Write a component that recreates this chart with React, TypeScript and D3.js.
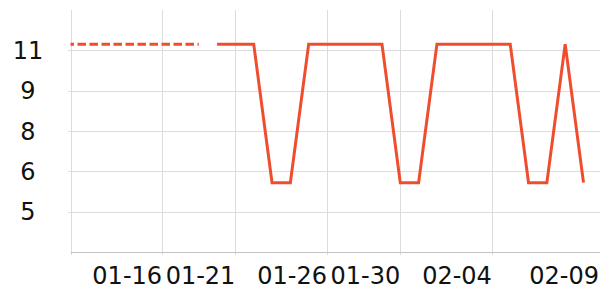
import React from 'react';
import * as d3 from 'd3';

// Point indices along the category axis (29 daily slots)
const dashedIndex = [0, 1, 2, 3, 4, 5, 6, 7];
const dashedValues = [11.23, 11.23, 11.23, 11.23, 11.23, 11.23, 11.23, 11.23];

const solidIndex = [8, 9, 10, 11, 12, 13, 14, 15, 16, 17, 18, 19, 20, 21, 22, 23, 24, 25, 26, 27, 28];
const solidValues = [
  11.23, 11.23, 11.23, 6.08, 6.08, 11.23, 11.23, 11.23, 11.23, 11.23, 6.08,
  6.08, 11.23, 11.23, 11.23, 11.23, 11.23, 6.08, 6.08, 11.23, 6.08,
];

const xTickLabels = ['01-16', '01-21', '01-26', '01-30', '02-04', '02-09'];
const xTickIndex = [5, 9, 14, 18, 23, 29];
const xGridIndex = [0, 5, 9, 14, 18, 23, 29];

const yTicks = [5, 6.5, 8, 9.5, 11];
const yDomain = [3.5, 12.5];
const xDomain = [0, 28];

const W = 600;
const H = 300;
const LEFT = 70.5;
const RIGHT_POINT = 583.5;
const TOP = 10;
const BOTTOM = 252;
const COLOR = '#ef4d2e';

export default function App() {
  const x = d3.scaleLinear().domain(xDomain).range([LEFT, RIGHT_POINT]);
  const y = d3.scaleLinear().domain(yDomain).range([BOTTOM, TOP]);

  const line = d3
    .line<[number, number]>()
    .x((d) => x(d[0]))
    .y((d) => y(d[1]));

  const dashedData: [number, number][] = dashedIndex.map((i, k) => [i, dashedValues[k]]);
  const solidData: [number, number][] = solidIndex.map((i, k) => [i, solidValues[k]]);

  const font = 'DejaVu Sans, sans-serif';

  return (
    <svg
      width={W}
      height={H}
      style={{ position: 'absolute', left: 0, top: 0, display: 'block', background: '#fff' }}
    >
      {yTicks.map((t) => (
        <line
          key={'hg' + t}
          x1={LEFT - 2.5}
          x2={W}
          y1={Math.round(y(t)) + 0.5}
          y2={Math.round(y(t)) + 0.5}
          stroke="#dcdcdc"
          strokeWidth={1}
        />
      ))}
      {xGridIndex.map((i) => (
        <line
          key={'vg' + i}
          x1={Math.round(x(i)) + 0.5}
          x2={Math.round(x(i)) + 0.5}
          y1={TOP}
          y2={BOTTOM + 3}
          stroke="#dcdcdc"
          strokeWidth={1}
        />
      ))}
      <line x1={LEFT} x2={W} y1={BOTTOM + 0.5} y2={BOTTOM + 0.5} stroke="#c4c4c4" strokeWidth={1} />

      {yTicks.map((t) => (
        <text
          key={'yl' + t}
          x={28}
          y={y(t)}
          dy="0.36em"
          textAnchor="middle"
          fontFamily={font}
          fontSize={24}
          fill="#111"
        >
          {Math.floor(t)}
        </text>
      ))}

      {xTickLabels.map((lab, k) => (
        <text
          key={'xl' + lab}
          x={Math.min(x(xTickIndex[k]), W - 1)}
          y={283.5}
          textAnchor="end"
          fontFamily={font}
          fontSize={24}
          fill="#111"
        >
          {lab}
        </text>
      ))}

      <path
        d={line(dashedData) || ''}
        fill="none"
        stroke={COLOR}
        strokeWidth={3}
        strokeDasharray="8.5 3.5"
        strokeDashoffset={5}
      />
      <path d={line(solidData) || ''} fill="none" stroke={COLOR} strokeWidth={3} />
    </svg>
  );
}
